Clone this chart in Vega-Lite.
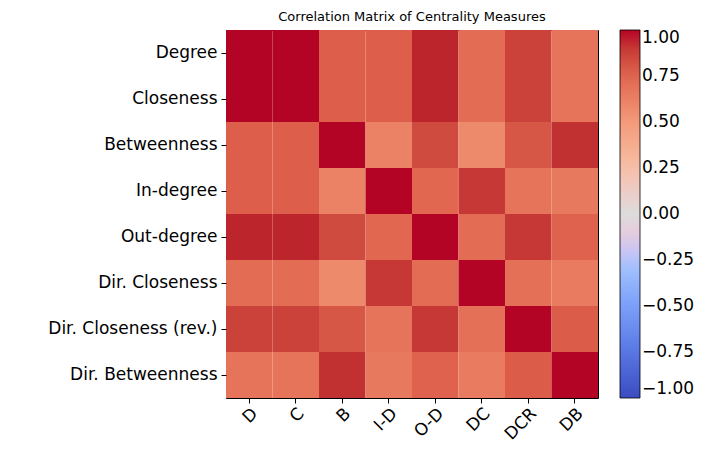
{
  "$schema": "https://vega.github.io/schema/vega-lite/v6.json",
  "autosize": "none",
  "padding": {"left": 226, "top": 30, "right": 125, "bottom": 67},
  "width": 372,
  "height": 368,
  "title": {"text": "Correlation Matrix of Centrality Measures", "fontSize": 13, "fontWeight": "normal", "font": "DejaVu Sans", "offset": 6},
  "data": {
    "values": [
      {"row": "Degree", "col": "D", "v": 1}, {"row": "Degree", "col": "C", "v": 1}, {"row": "Degree", "col": "B", "v": 0.77}, {"row": "Degree", "col": "I-D", "v": 0.77}, {"row": "Degree", "col": "O-D", "v": 0.95}, {"row": "Degree", "col": "DC", "v": 0.72}, {"row": "Degree", "col": "DCR", "v": 0.87}, {"row": "Degree", "col": "DB", "v": 0.68},
      {"row": "Closeness", "col": "D", "v": 1}, {"row": "Closeness", "col": "C", "v": 1}, {"row": "Closeness", "col": "B", "v": 0.77}, {"row": "Closeness", "col": "I-D", "v": 0.77}, {"row": "Closeness", "col": "O-D", "v": 0.95}, {"row": "Closeness", "col": "DC", "v": 0.72}, {"row": "Closeness", "col": "DCR", "v": 0.87}, {"row": "Closeness", "col": "DB", "v": 0.68},
      {"row": "Betweenness", "col": "D", "v": 0.77}, {"row": "Betweenness", "col": "C", "v": 0.77}, {"row": "Betweenness", "col": "B", "v": 1}, {"row": "Betweenness", "col": "I-D", "v": 0.62}, {"row": "Betweenness", "col": "O-D", "v": 0.84}, {"row": "Betweenness", "col": "DC", "v": 0.58}, {"row": "Betweenness", "col": "DCR", "v": 0.8}, {"row": "Betweenness", "col": "DB", "v": 0.92},
      {"row": "In-degree", "col": "D", "v": 0.77}, {"row": "In-degree", "col": "C", "v": 0.77}, {"row": "In-degree", "col": "B", "v": 0.62}, {"row": "In-degree", "col": "I-D", "v": 1}, {"row": "In-degree", "col": "O-D", "v": 0.74}, {"row": "In-degree", "col": "DC", "v": 0.9}, {"row": "In-degree", "col": "DCR", "v": 0.68}, {"row": "In-degree", "col": "DB", "v": 0.66},
      {"row": "Out-degree", "col": "D", "v": 0.95}, {"row": "Out-degree", "col": "C", "v": 0.95}, {"row": "Out-degree", "col": "B", "v": 0.84}, {"row": "Out-degree", "col": "I-D", "v": 0.74}, {"row": "Out-degree", "col": "O-D", "v": 1}, {"row": "Out-degree", "col": "DC", "v": 0.72}, {"row": "Out-degree", "col": "DCR", "v": 0.9}, {"row": "Out-degree", "col": "DB", "v": 0.76},
      {"row": "Dir. Closeness", "col": "D", "v": 0.72}, {"row": "Dir. Closeness", "col": "C", "v": 0.72}, {"row": "Dir. Closeness", "col": "B", "v": 0.58}, {"row": "Dir. Closeness", "col": "I-D", "v": 0.9}, {"row": "Dir. Closeness", "col": "O-D", "v": 0.72}, {"row": "Dir. Closeness", "col": "DC", "v": 1}, {"row": "Dir. Closeness", "col": "DCR", "v": 0.7}, {"row": "Dir. Closeness", "col": "DB", "v": 0.65},
      {"row": "Dir. Closeness (rev.)", "col": "D", "v": 0.87}, {"row": "Dir. Closeness (rev.)", "col": "C", "v": 0.87}, {"row": "Dir. Closeness (rev.)", "col": "B", "v": 0.8}, {"row": "Dir. Closeness (rev.)", "col": "I-D", "v": 0.68}, {"row": "Dir. Closeness (rev.)", "col": "O-D", "v": 0.9}, {"row": "Dir. Closeness (rev.)", "col": "DC", "v": 0.7}, {"row": "Dir. Closeness (rev.)", "col": "DCR", "v": 1}, {"row": "Dir. Closeness (rev.)", "col": "DB", "v": 0.78},
      {"row": "Dir. Betweenness", "col": "D", "v": 0.68}, {"row": "Dir. Betweenness", "col": "C", "v": 0.68}, {"row": "Dir. Betweenness", "col": "B", "v": 0.92}, {"row": "Dir. Betweenness", "col": "I-D", "v": 0.66}, {"row": "Dir. Betweenness", "col": "O-D", "v": 0.76}, {"row": "Dir. Betweenness", "col": "DC", "v": 0.65}, {"row": "Dir. Betweenness", "col": "DCR", "v": 0.78}, {"row": "Dir. Betweenness", "col": "DB", "v": 1}
    ]
  },
  "mark": {"type": "rect", "strokeWidth": 0},
  "encoding": {
    "x": {
      "field": "col", "type": "nominal", "sort": null,
      "scale": {"paddingInner": 0, "paddingOuter": 0},
      "axis": {"title": null, "labelAngle": -45, "labelFontSize": 17, "labelFont": "DejaVu Sans", "labelColor": "black", "labelAlign": "right", "labelBaseline": "top", "tickColor": "black", "tickSize": 5, "domain": false, "grid": false}
    },
    "y": {
      "field": "row", "type": "nominal", "sort": null,
      "scale": {"paddingInner": 0, "paddingOuter": 0},
      "axis": {"title": null, "labelFontSize": 17, "labelFont": "DejaVu Sans", "labelColor": "black", "tickColor": "black", "tickSize": 5, "domain": false, "grid": false, "labelPadding": 4}
    },
    "color": {
      "field": "v", "type": "quantitative",
      "scale": {
        "domain": [-1, -0.75, -0.5, -0.25, 0, 0.25, 0.5, 0.75, 1],
        "range": ["#3b4cc0", "#5977e3", "#7b9ff9", "#aac7fd", "#dddcdc", "#f6bfa6", "#f49a7b", "#e0654f", "#b40426"]
      },
      "legend": {
        "title": null, "orient": "right", "offset": 22, "gradientLength": 368, "gradientThickness": 20,
        "values": [-1, -0.75, -0.5, -0.25, 0, 0.25, 0.5, 0.75, 1], "format": ".2f",
        "labelFontSize": 17, "labelFont": "DejaVu Sans", "labelColor": "black", "gradientStrokeColor": "black", "gradientStrokeWidth": 0.8
      }
    }
  },
  "config": {"view": {"stroke": "black"}}
}
